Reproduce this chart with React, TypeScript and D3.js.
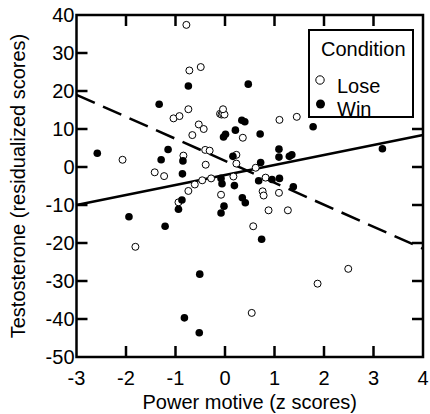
import React from "react";
import * as d3 from "d3";

const xTicks = [-3, -2, -1, 0, 1, 2, 3, 4];
const yTicks = [40, 30, 20, 10, 0, -10, -20, -30, -40, -50];

// Lose condition (open circles)
const loseX = [-0.78, -0.72, -0.49, -0.74, -1.04, -0.92, -0.53, -0.43, -0.1, -0.07, -0.04, -0.01, -0.04, -0.66, 1.1, 1.45, -2.07, -1.81, -1.42, -1.23, -0.84, -0.74, -0.61, -0.94, -0.4, -0.31, -0.39, -0.46, -0.28, 0.23, 0.23, 0.17, -0.08, 0.36, 0.62, 0.82, 0.76, 0.78, 1.09, 0.88, 1.27, 0.57, 0.54, 1.87, 2.49];
const loseY = [37.4, 25.4, 26.3, 15.2, 12.8, 13.4, 11.2, 10.0, 14.0, 13.8, 14.0, 13.8, 15.2, 8.4, 12.4, 13.2, 1.9, -21, -1.4, -2.4, 3.0, -6.3, -4.6, -9.3, 4.5, 4.3, 0.6, -3.5, -3.0, 3.2, 0.9, -2.5, -7.3, 7.7, -0.2, -2.8, -6.4, -7.5, -6.8, -11.4, -11.4, -15.6, -38.4, -30.7, -26.8];

// Win condition (filled circles)
const winX = [-0.74, -1.33, 0.21, -0.03, 0.01, 0.34, 0.4, 0.47, 1.78, 0.71, -2.58, -1.94, -1.29, -1.15, -1.21, -0.85, -0.86, -0.87, -0.94, 0.16, -0.08, -0.06, 0.19, -0.02, -0.08, 0.35, 0.41, 1.09, 1.09, 1.3, 1.35, 0.72, 0.68, 0.95, 1.1, 1.38, 0.74, 3.18, -0.51, -0.82, -0.52];
const winY = [21.3, 16.5, 9.7, 7.9, 8.6, 12.3, 11.9, 21.8, 10.6, 8.7, 3.6, -13.1, 1.9, 4.6, -15.6, 1.6, -1.8, -8.7, -11.1, 2.8, -3.0, -4.4, -4.9, -10.3, -12.1, -8.1, -9.4, 4.7, 2.6, 2.8, 3.2, 1.2, -3.6, -3.3, -3.0, -5.2, -19.0, 4.8, -28.2, -39.7, -43.6];

// fitted lines, endpoints at x = -3 and x = 4
const lineX = [-3, 4];
const winFitY = [-10, 8.4];
const loseFitY = [19, -21.5];

const legendLabels = ["Lose", "Win"];

const W = 430, H = 414;
const FONT = "'Liberation Sans', Arial, sans-serif";

export default function App() {
  const x = d3.scaleLinear().domain([-3, 4]).range([76.5, 423]);
  const y = d3.scaleLinear().domain([-50, 40]).range([357, 15]);
  const [x0, x1] = x.range();
  const [yb, yt] = y.range();
  const tl = 11;

  const path = (ys: number[]) =>
    d3.line<number>().x((d) => x(d)).y((_, i) => y(ys[i]))(lineX) || "";

  return (
    <svg width={W} height={H} style={{ position: "absolute", left: 0, top: 0, background: "#fff" }} fontFamily={FONT}>
      {/* fit lines */}
      <path d={path(winFitY)} stroke="#000" strokeWidth={2.5} fill="none" />
      <path d={path(loseFitY)} stroke="#000" strokeWidth={2.5} fill="none" strokeDasharray="20,9" />

      {/* points */}
      {loseX.map((v, i) => (
        <circle key={"l" + i} cx={x(v)} cy={y(loseY[i])} r={3.5} fill="#fff" stroke="#000" strokeWidth={1} />
      ))}
      {winX.map((v, i) => (
        <circle key={"w" + i} cx={x(v)} cy={y(winY[i])} r={3.8} fill="#000" />
      ))}

      {/* ticks on all four sides, pointing in */}
      <g stroke="#000" strokeWidth={2.5}>
        {xTicks.slice(1, -1).map((t) => (
          <g key={"xt" + t}>
            <line x1={x(t)} x2={x(t)} y1={yb} y2={yb - tl} />
            <line x1={x(t)} x2={x(t)} y1={yt} y2={yt + tl} />
          </g>
        ))}
        {yTicks.slice(1, -1).map((t) => (
          <g key={"yt" + t}>
            <line x1={x0} x2={x0 + tl} y1={y(t)} y2={y(t)} />
            <line x1={x1} x2={x1 - tl} y1={y(t)} y2={y(t)} />
          </g>
        ))}
      </g>

      {/* legend */}
      <rect x={309} y={30} width={x1 - 309 - 1} height={87} fill="#fff" />
      <rect x={309} y={30} width={104} height={87} fill="none" stroke="#000" strokeWidth={2} />
      <text x={321} y={55.5} fontSize={20}>Condition</text>
      <circle cx={320} cy={80} r={4.2} fill="#fff" stroke="#000" strokeWidth={1} />
      <text x={337} y={92.5} fontSize={20}>{legendLabels[0]}</text>
      <circle cx={320.5} cy={104} r={4.5} fill="#000" />
      <text x={337} y={116} fontSize={20}>{legendLabels[1]}</text>

      {/* frame */}
      <rect x={x0} y={yt} width={x1 - x0} height={yb - yt} fill="none" stroke="#000" strokeWidth={2.5} />

      {/* tick labels */}
      {xTicks.map((t) => (
        <text key={"xl" + t} x={x(t)} y={385} fontSize={20} textAnchor="middle">{t}</text>
      ))}
      {yTicks.map((t) => (
        <text key={"yl" + t} x={x0 - 2} y={y(t)} dy="0.36em" fontSize={20} textAnchor="end">{t}</text>
      ))}

      {/* axis titles */}
      <text x={(x0 + x1) / 2} y={409} fontSize={20} textAnchor="middle">Power motive (z scores)</text>
      <text transform={`translate(25,${(yt + yb) / 2}) rotate(-90)`} fontSize={20} textAnchor="middle">
        Testosterone (residualized scores)
      </text>
    </svg>
  );
}
